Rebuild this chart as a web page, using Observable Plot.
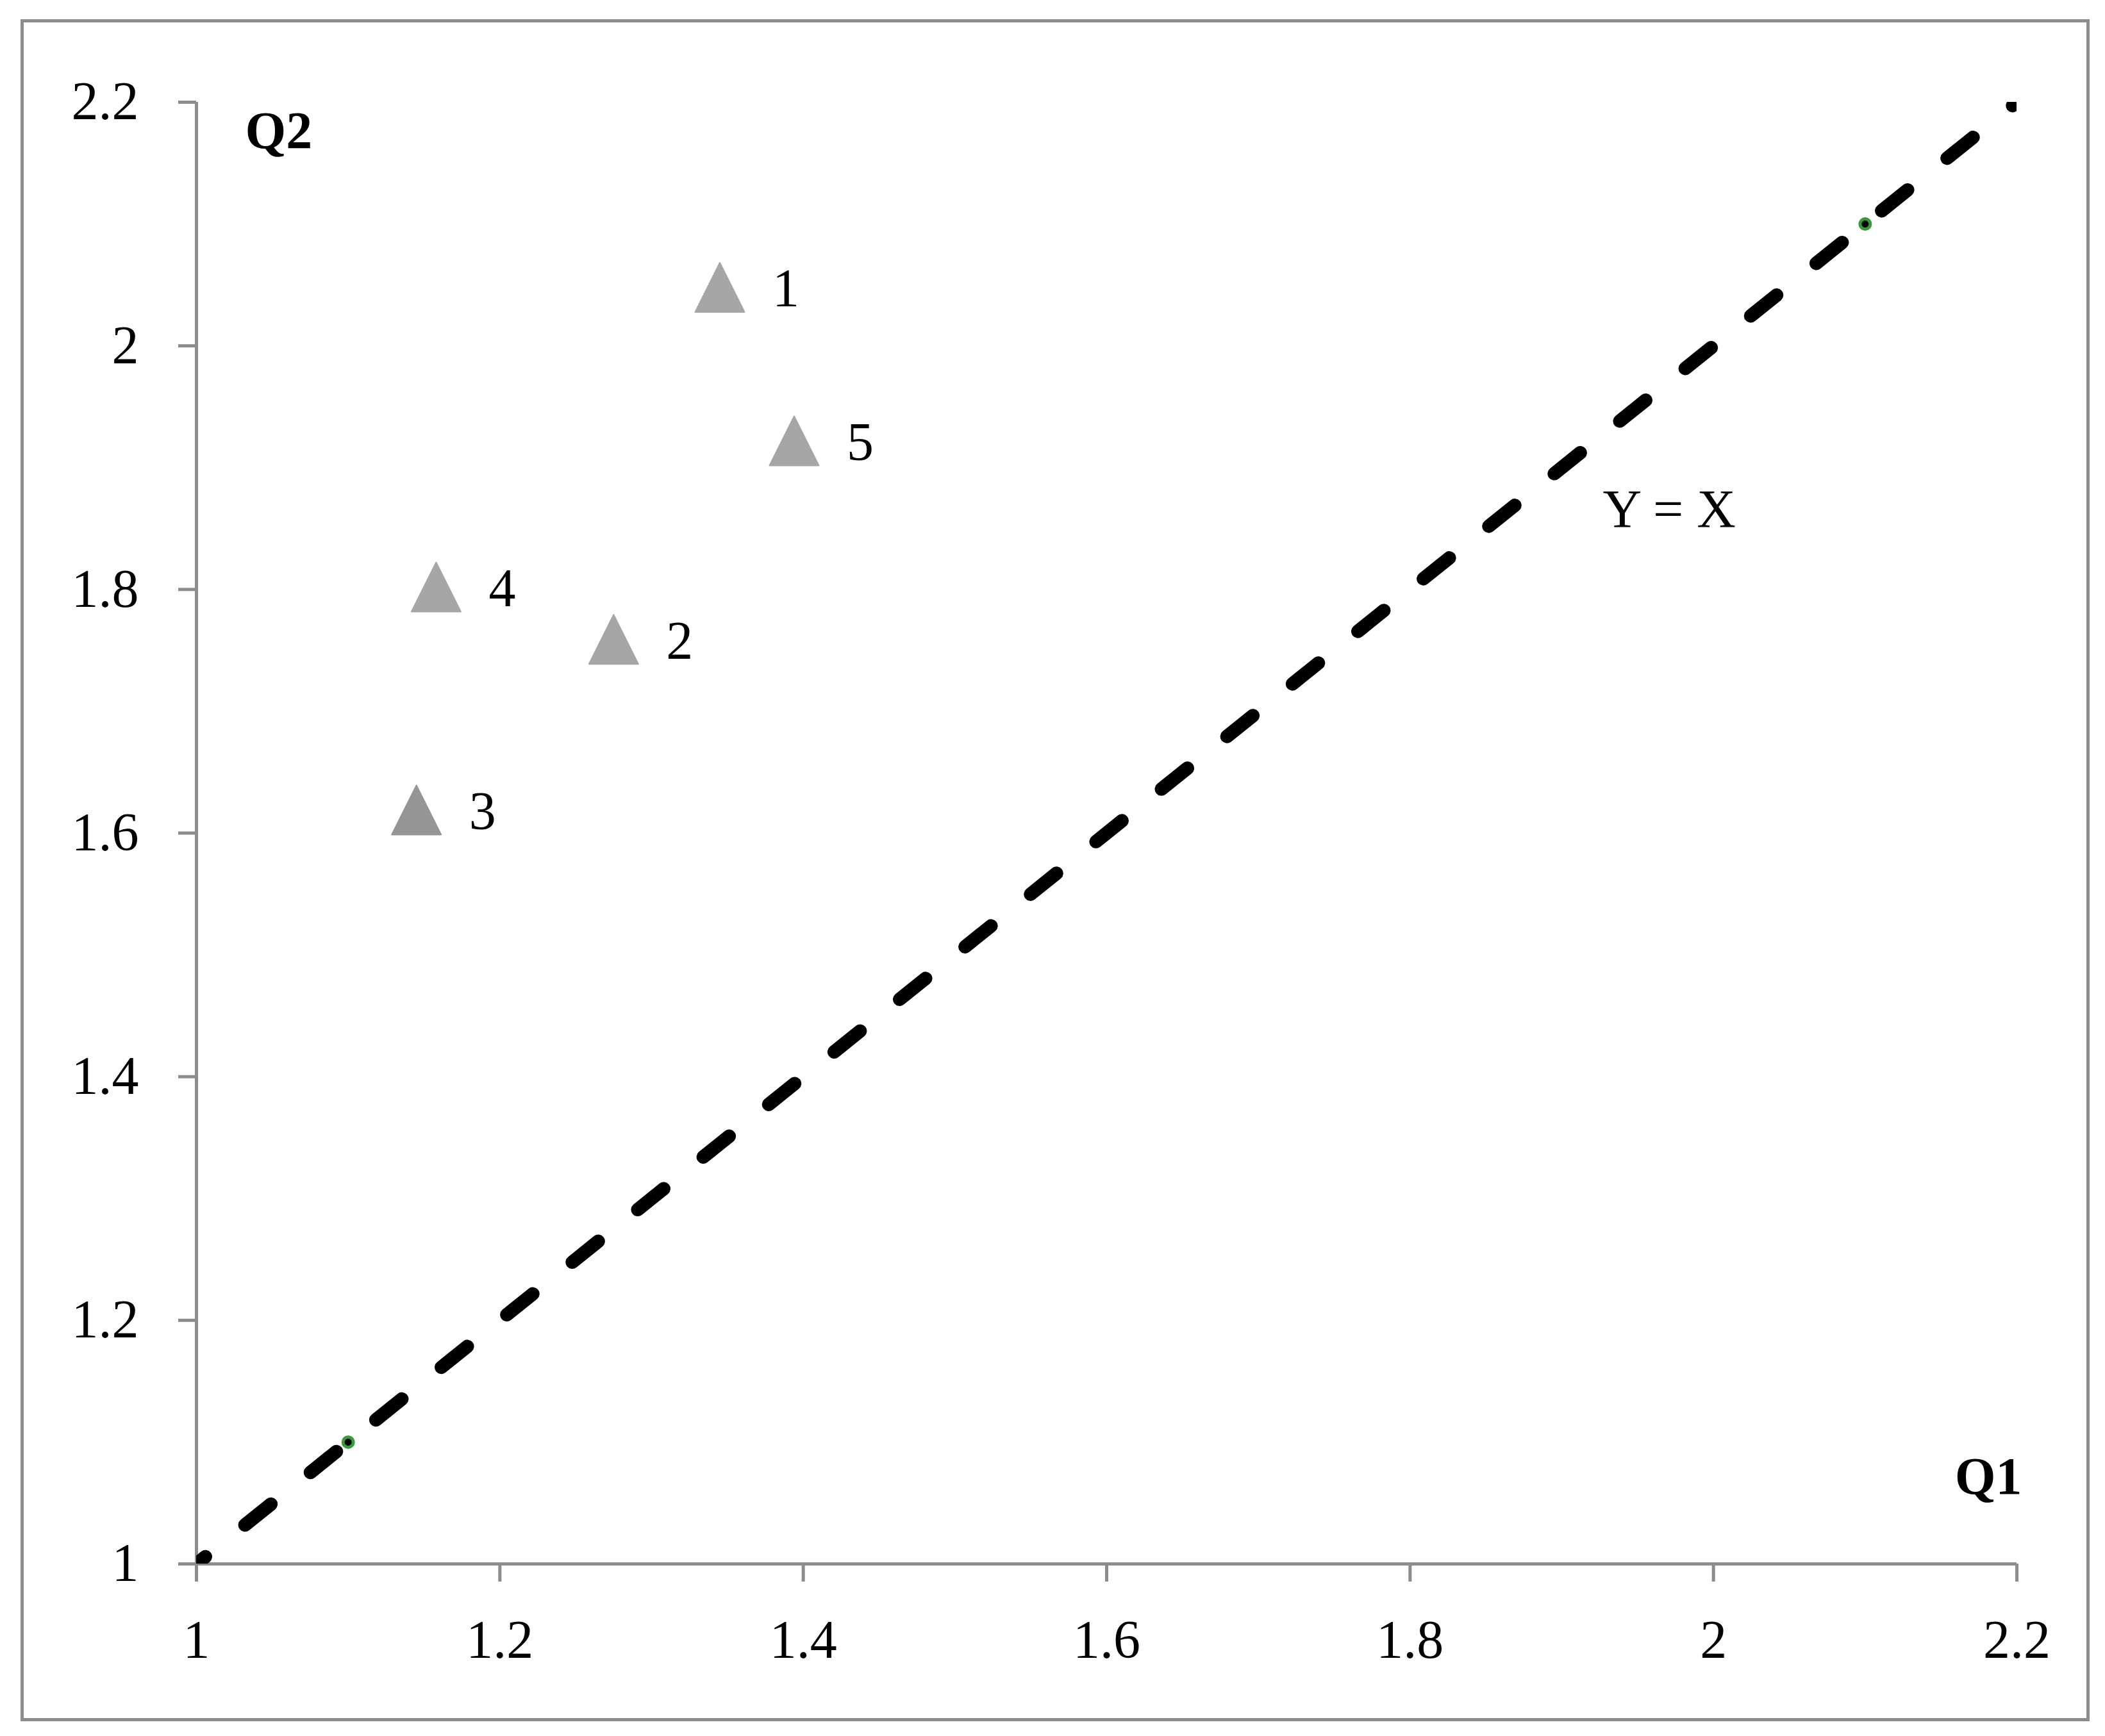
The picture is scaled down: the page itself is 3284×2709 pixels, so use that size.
<!DOCTYPE html>
<html>
<head>
<meta charset="utf-8">
<script src="https://cdn.jsdelivr.net/npm/d3@7"></script>
<script src="https://cdn.jsdelivr.net/npm/@observablehq/plot@0.6"></script>
<style>
  html, body { margin: 0; padding: 0; background: #ffffff; }
  #wrap { position: relative; width: 3284px; height: 2709px; }
  #border { position: absolute; left: 32px; top: 30px; width: 3218px; height: 2646px;
            border: 5px solid #8c8c8c; pointer-events: none; }
</style>
</head>
<body>
<div id="wrap"><div id="border"></div></div>
<script>
// ---- data ----
const pointIds   = ["1", "2", "3", "4", "5"];
const q1Values   = [1.345, 1.275, 1.145, 1.158, 1.394];
const q2Values   = [2.048, 1.759, 1.619, 1.802, 1.922];
const pointFills = ["#a6a6a6", "#a6a6a6", "#959595", "#a6a6a6", "#a6a6a6"];

const refLineX = [1, 2.2];
const refLineY = [1, 2.2];
const refMarkX = [1.1, 2.1];
const refMarkY = [1.1, 2.1];
const refLabel = ["Y = X"];
const refLabelX = [1.927];
const refLabelY = [1.865];

const xTicks = [1, 1.2, 1.4, 1.6, 1.8, 2, 2.2];
const xTickLabels = ["1", "1.2", "1.4", "1.6", "1.8", "2", "2.2"];
const yTicks = [1, 1.2, 1.4, 1.6, 1.8, 2, 2.2];
const yTickLabels = ["1", "1.2", "1.4", "1.6", "1.8", "2", "2.2"];
const xAxisTitle = "Q1";
const yAxisTitle = "Q2";

// ---- tables built from arrays ----
const points = pointIds.map((id, i) => ({id, q1: q1Values[i], q2: q2Values[i], fill: pointFills[i]}));
const refLine = refLineX.map((x, i) => ({x, y: refLineY[i]}));
const refMarks = refMarkX.map((x, i) => ({x, y: refMarkY[i]}));
const refText = refLabel.map((t, i) => ({t, x: refLabelX[i], y: refLabelY[i]}));

// triangle whose bounding box is centred on the point
const triangle = {
  draw(ctx, size) {
    const r = Math.sqrt(size / Math.PI);
    ctx.moveTo(0, -r);
    ctx.lineTo(r, r);
    ctx.lineTo(-r, r);
    ctx.closePath();
  }
};

const axisGray = "#8c8c8c";
const font = "'Liberation Serif', 'Times New Roman', serif";

const chart = Plot.plot({
  width: 3284,
  height: 2709,
  marginLeft: 306,
  marginRight: 138,
  marginTop: 159,
  marginBottom: 269,
  style: {fontFamily: font, fontSize: "84px", background: "transparent", color: "black"},
  x: {domain: [1, 2.2]},
  y: {domain: [1, 2.2]},
  color: {type: "identity"},
  marks: [
    Plot.ruleY([1], {stroke: axisGray, strokeWidth: 5}),
    Plot.ruleX([1], {stroke: axisGray, strokeWidth: 5}),
    Plot.axisX(xTicks, {
      tickSize: 28, tickPadding: 59, stroke: axisGray, strokeWidth: 5, fill: "black",
      fontSize: 84, label: null, tickFormat: (d, i) => xTickLabels[i]
    }),
    Plot.axisY(yTicks, {
      tickSize: 28, tickPadding: 62, stroke: axisGray, strokeWidth: 5, fill: "black",
      fontSize: 84, label: null, tickFormat: (d, i) => yTickLabels[i]
    }),
    Plot.line(refLine, {
      x: "x", y: "y", stroke: "black", strokeWidth: 21,
      strokeDasharray: "52,79", strokeDashoffset: 34, strokeLinecap: "round", clip: true
    }),
    Plot.dot(refMarks, {x: "x", y: "y", r: 8, fill: "black", stroke: "#3a9b3a", strokeWidth: 5}),
    Plot.text(refText, {x: "x", y: "y", text: "t", textAnchor: "start", fontSize: 84, fill: "black"}),
    Plot.dot(points, {
      x: "q1", y: "q2", symbol: triangle, r: 38.5,
      fill: "fill", stroke: "fill", strokeWidth: 2, strokeLinejoin: "round"
    }),
    Plot.text(points, {
      x: "q1", y: "q2", text: "id", textAnchor: "start", dx: 82, dy: 3, fontSize: 84, fill: "black"
    }),
    Plot.text([yAxisTitle], {
      frameAnchor: "top-left", textAnchor: "start", lineAnchor: "middle",
      dx: 76, dy: 45, fontSize: 82, fontWeight: "bold", fill: "black"
    }),
    Plot.text([xAxisTitle], {
      frameAnchor: "bottom-right", textAnchor: "end", lineAnchor: "middle",
      dx: 8, dy: -136, fontSize: 82, fontWeight: "bold", fill: "black"
    })
  ]
});
chart.style.position = "absolute";
chart.style.left = "0px";
chart.style.top = "0px";
document.getElementById("wrap").appendChild(chart);
</script>
</body>
</html>
